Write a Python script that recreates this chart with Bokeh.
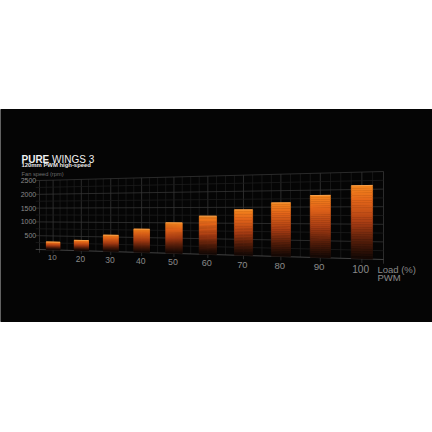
import numpy as np
from bokeh.plotting import figure
from bokeh.models import Range1d, ColumnDataSource
from bokeh.core.properties import value
from bokeh.embed import file_html
from bokeh.resources import INLINE

# data
loads = [10, 20, 30, 40, 50, 60, 70, 80, 90, 100]
rpm = [280, 360, 560, 780, 1000, 1220, 1420, 1630, 1840, 2110]
rpm_ticks = [500, 1000, 1500, 2000, 2500]
load_labels = [str(l) for l in loads]

title_bold = "PURE"
title_rest = "WINGS 3"
subtitle = "120mm PWM high-speed"
y_title = "Fan speed (rpm)"
x_title = ["Load (%)", "PWM"]

# the chart plane is seen in perspective: load 5..105, rpm 0..2500
LOAD_MIN, LOAD_MAX, RPM_MAX = 5, 105, 2500
BAR_HALF = 2.5


def proj(load, speed):
    u = (np.asarray(load, float) - LOAD_MIN) / (LOAD_MAX - LOAD_MIN)
    w = 1.275 - 0.275 * u
    x = (49.7 + 333.3 * u) / w
    y = (317.5 - 58.5 * u - 0.0352 * np.asarray(speed, float)) / w
    return x, y, w


def grad(t):
    stops = [0.0, 0.2, 0.5, 0.78, 1.0]
    cols = [(244, 134, 30), (228, 102, 26), (170, 62, 20), (78, 28, 10), (18, 8, 5)]
    r, g, b = (np.interp(t, stops, [c[i] for c in cols]) for i in range(3))
    return "#%02x%02x%02x" % (int(r), int(g), int(b))


p = figure(width=432, height=432, x_range=Range1d(0, 432), y_range=Range1d(432, 0),
           output_backend="svg", toolbar_location=None, min_border=0,
           x_axis_type=None, y_axis_type=None,
           background_fill_color="white", border_fill_color="white",
           outline_line_color=None)
p.grid.visible = False

# black band behind the chart
p.quad(left=0, right=432, top=109, bottom=321, color="#050505")

# grid
xs, ys, cs = [], [], []
for k in range(41):
    L = LOAD_MIN + 2.5 * k
    major = (k % 4 == 2) or k in (0, 40)
    x0, y0, _ = proj(L, -120 if major else 0)
    x1, y1, _ = proj(L, RPM_MAX)
    xs.append([x0, x1]); ys.append([y0, y1])
    cs.append("#363636" if major else "#1c1c1c")
for k in range(11):
    v = 250 * k
    major = k % 2 == 0
    x0, y0, _ = proj(LOAD_MIN - 1.4, v)
    x1, y1, _ = proj(LOAD_MAX, v)
    xs.append([x0, x1]); ys.append([y0, y1])
    cs.append("#505050" if k == 0 else ("#343434" if major else "#1c1c1c"))
p.multi_line(xs, ys, line_color=cs, line_width=0.8)

# bars, shaded from the top down to the axis
N = 30
bxs, bys, bcs = [], [], []
for L, V in zip(loads, rpm):
    edges = np.linspace(V, 0, N + 1)
    for k in range(N):
        xa, ya, _ = proj([L - BAR_HALF, L + BAR_HALF, L + BAR_HALF, L - BAR_HALF],
                         [edges[k], edges[k], edges[k + 1], edges[k + 1]])
        bxs.append(list(xa)); bys.append(list(ya))
        bcs.append(grad((k + 0.5) / N))
p.patches(bxs, bys, fill_color=bcs, line_color=bcs, line_width=0.5)

tx0, ty0, _ = proj(np.array(loads) - BAR_HALF, rpm)
tx1, ty1, _ = proj(np.array(loads) + BAR_HALF, rpm)
p.segment(tx0, ty0, tx1, ty1, line_color="#f9a048", line_width=1)

# rpm tick labels at the left edge
yx, yy, _ = proj([3.8] * len(rpm_ticks), rpm_ticks)
p.text(yx, yy, text=[str(t) for t in rpm_ticks], text_align="right", text_baseline="middle",
       text_font=value("Liberation Sans"), text_font_size="7px", text_color="#8a8a8a")

# load tick labels, scaled with depth
lx, ly, lw = proj(np.array(loads) - 0.3, [-290] * len(loads))
src = ColumnDataSource(dict(x=lx, y=ly, text=load_labels,
                            size=["%.1fpx" % (10.2 / w) for w in lw]))
p.text("x", "y", text="text", source=src, text_align="center", text_baseline="middle",
       text_font=value("Liberation Sans"), text_font_size="size", text_color="#8a8a8a")

ax, ay, _ = proj([103.6, 103.6], [-300, -530])
p.text(ax, ay, text=x_title, text_align="left", text_baseline="middle",
       text_font=value("Liberation Sans"), text_font_size="9.5px", text_color="#8a8a8a",
       text_line_height=1.0)

# titles
p.text([21], [158.5], text=[title_bold], text_font=value("Liberation Sans"),
       text_font_style="bold", text_font_size="10px", text_color="#f2f2f2",
       text_baseline="alphabetic")
p.text([51.6], [158.5], text=[title_rest], text_font=value("Liberation Sans"),
       text_font_size="10px", text_color="#f2f2f2", text_baseline="alphabetic")
p.text([21], [164.5], text=[subtitle], text_font=value("Liberation Sans"),
       text_font_style="bold", text_font_size="5.9px", text_color="#e8e8e8",
       text_baseline="alphabetic")
p.text([21], [173.6], text=[y_title], text_font=value("Liberation Sans"),
       text_font_size="5.7px", text_color="#6e6e6e", text_baseline="alphabetic")

open("out.html", "w").write(file_html(p, INLINE))
